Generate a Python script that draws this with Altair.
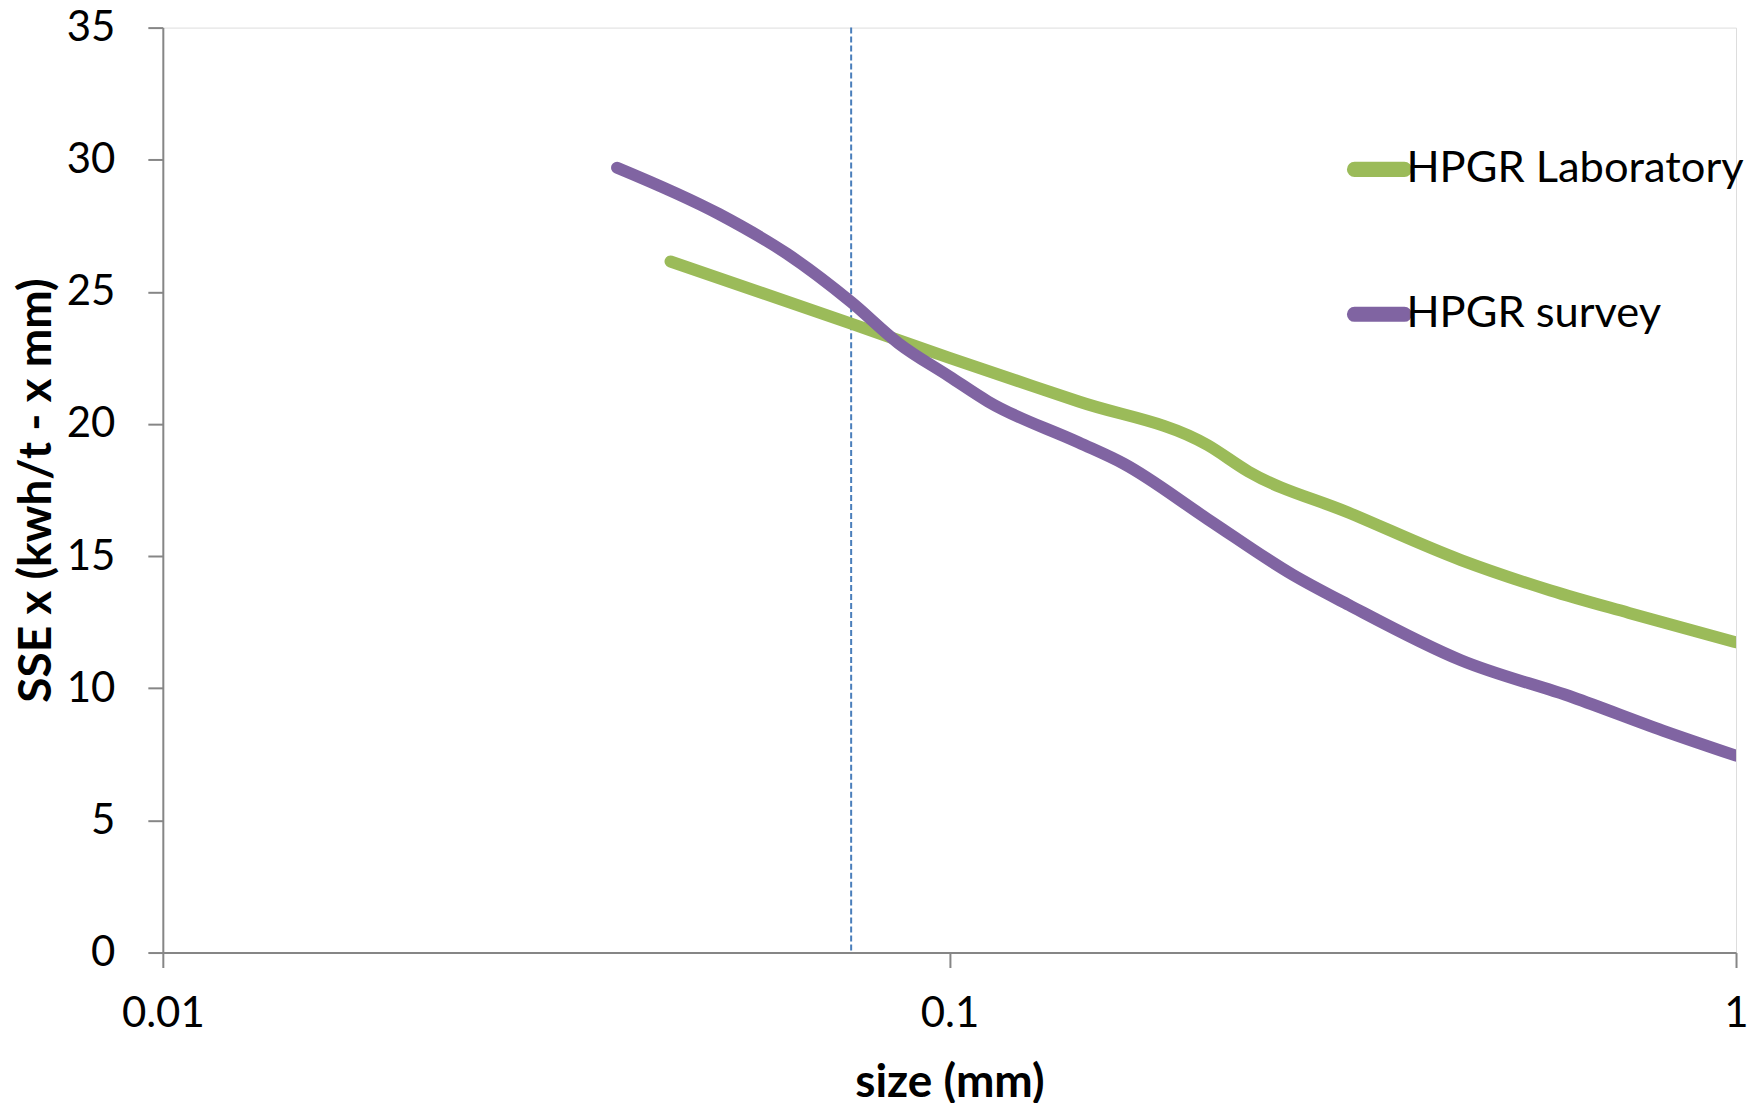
import altair as alt
import pandas as pd

# Data
series_names = ["HPGR Laboratory", "HPGR survey"]
series_colors = ["#9BBB59", "#8064A2"]

lab_size = [0.0442, 0.075, 0.1, 0.146, 0.213, 0.24, 0.3214, 0.447, 0.581, 0.731, 1.0]
lab_sse = [26.15, 23.8, 22.5, 20.85, 19.2, 18.2, 16.65, 14.85, 13.7, 12.85, 11.74]

survey_size = [0.0378, 0.0509, 0.0621, 0.0751, 0.0862, 0.1, 0.112, 0.146, 0.1665,
               0.213, 0.273, 0.322, 0.447, 0.621, 0.807, 1.0]
survey_sse = [29.7, 27.95, 26.45, 24.6, 23.05, 21.8, 20.85, 19.3, 18.5,
              16.4, 14.3, 13.15, 11.06, 9.65, 8.4, 7.45]

cut_size = [0.075]
x_ticks = [0.01, 0.1, 1]
y_ticks = [0, 5, 10, 15, 20, 25, 30, 35]

rows = []
for s, v in zip(lab_size, lab_sse):
    rows.append({"size": s, "sse": v, "series": series_names[0]})
for s, v in zip(survey_size, survey_sse):
    rows.append({"size": s, "sse": v, "series": series_names[1]})
df = pd.DataFrame(rows)
cut_df = pd.DataFrame({"size": cut_size})

FONT = "Lato"
AX = "#868686"
W, H = 1575, 926

# thin stadium outline; stroked wide it gives a rounded-cap line symbol
STADIUM = ("M-0.78,-0.05 L0.78,-0.05 A0.05,0.05 0 0 1 0.78,0.05 "
           "L-0.78,0.05 A0.05,0.05 0 0 1 -0.78,-0.05 Z")

x_scale = alt.Scale(type="log", domain=[0.01, 1], nice=False)
y_scale = alt.Scale(domain=[0, 35], nice=False)

x_axis = alt.Axis(
    values=x_ticks, format="~g", grid=False, title="size (mm)",
    labelFont=FONT, labelFontSize=42, labelColor="#000000", labelFlush=False,
    labelPadding=46, labelBaseline="middle",
    tickSize=15, tickColor=AX, tickWidth=2, domainColor=AX, domainWidth=2,
    titleFont=FONT, titleFontSize=46, titleFontWeight="bold", titleColor="#000000",
    titleX=W / 2, titleY=130, titleBaseline="middle", titleAnchor="middle",
)
y_axis = alt.Axis(
    values=y_ticks, grid=False, title="SSE x (kwh/t - x mm)",
    labelFont=FONT, labelFontSize=42, labelColor="#000000", labelPadding=33,
    tickSize=15, tickColor=AX, tickWidth=2, domainColor=AX, domainWidth=2,
    titleFont=FONT, titleFontSize=46, titleFontWeight="bold", titleColor="#000000",
    titleX=-126, titleY=H / 2, titleAngle=-90, titleBaseline="middle", titleAnchor="middle",
    titleLimit=2000,
)

lines = alt.Chart(df).mark_line(
    interpolate="monotone", strokeWidth=12, strokeCap="round", strokeJoin="round", clip=True
).encode(
    x=alt.X("size:Q", scale=x_scale, axis=x_axis),
    y=alt.Y("sse:Q", scale=y_scale, axis=y_axis),
    color=alt.Color(
        "series:N",
        scale=alt.Scale(domain=series_names, range=series_colors),
        legend=alt.Legend(
            title=None, orient="none", legendX=1180, legendY=104,
            symbolType=STADIUM, symbolSize=4096, symbolStrokeWidth=12,
            labelFont=FONT, labelFontSize=43.5, labelColor="#000000", labelLimit=0,
            labelOffset={"expr": "-11"}, rowPadding=81, padding=0,
        ),
    ),
)

rule = alt.Chart(cut_df).mark_rule(
    color="#4A7EBB", strokeWidth=2, strokeDash=[6, 3]
).encode(x=alt.X("size:Q", scale=x_scale))

chart = alt.layer(rule, lines).properties(
    width=W, height=H,
    autosize=alt.AutoSizeParams(type="none"),
    padding={"left": 155, "top": 19, "right": 20, "bottom": 150},
).configure_view(stroke=None).configure(background="white")

chart.save("out.html", embed_options={"renderer": "svg", "actions": False})
